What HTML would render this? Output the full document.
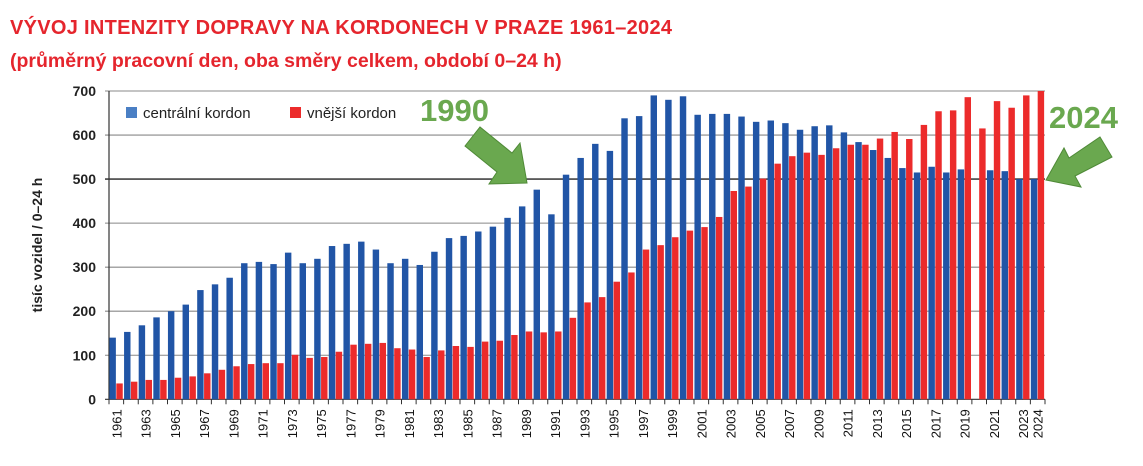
<!DOCTYPE html>
<html><head><meta charset="utf-8">
<style>
body{margin:0;background:#fff;width:1143px;height:466px;overflow:hidden;font-family:"Liberation Sans",sans-serif;}
.t{position:absolute;left:10px;color:#e5252d;font-weight:bold;white-space:nowrap;}
</style></head>
<body>
<div class="t" style="top:17px;font-size:20px;letter-spacing:0.3px;">VÝVOJ INTENZITY DOPRAVY NA KORDONECH V PRAZE 1961–2024</div>
<div class="t" style="top:50px;font-size:19.5px;">(průměrný pracovní den, oba směry celkem, období 0–24 h)</div>
<svg id="c" width="1143" height="466" style="position:absolute;left:0;top:0"></svg>
<script>
const years=[];for(let y=1961;y<=2024;y++)years.push(y);
const central=[140,153,168,186,200,215,248,261,276,309,312,307,333,309,319,348,353,358,340,309,319,305,335,366,371,381,392,412,438,476,420,510,548,580,564,638,643,690,680,688,646,648,648,642,630,633,627,612,620,622,606,584,566,548,525,515,528,515,522,0,520,518,500,500];
const outer=[36,40,44,44,49,52,59,67,75,80,82,82,101,94,96,108,124,126,128,116,113,96,111,121,119,131,133,146,154,152,154,185,220,232,267,288,340,350,368,383,391,414,473,483,501,535,552,560,555,570,578,578,592,607,591,623,654,656,686,615,677,662,690,700];
const yTicks=[0,100,200,300,400,500,600,700];
const NS="http://www.w3.org/2000/svg";
const svg=document.getElementById('c');
const X0=109,X1=1045,Y0=399.3,Y1=91;
const slot=(X1-X0)/years.length;
const yS=v=>Y0-(v/700)*(Y0-Y1);
const xS=i=>X0+i*slot;
function el(t,a){const e=document.createElementNS(NS,t);for(const k in a)e.setAttribute(k,a[k]);svg.appendChild(e);return e;}
yTicks.forEach(v=>{
  const l=el('line',{x1:X0-4,x2:X1,y1:yS(v),y2:yS(v),stroke:v===500?'#222':(v===0?'#333':'#888'),'stroke-width':v===500?1.3:1.1});
  
  
  const t=el('text',{x:X0-13,y:yS(v)+5,'text-anchor':'end','font-size':14,'font-weight':'bold',fill:'#222'});
  t.textContent=v;
  
  
});
const ax=el('line',{x1:X0,x2:X0,y1:Y1,y2:Y0,stroke:'#333','stroke-width':1.2});


years.forEach((yr,i)=>{
  const x=xS(i);
  const tk=el('line',{x1:x,x2:x,y1:Y0,y2:Y0+5,stroke:'#333'});
  
  
  const bw=slot*0.44;
  if(central[i]>0){
    const b=el('rect',{x:x+slot*0.03,y:yS(central[i]),width:bw,height:Y0-yS(central[i]),fill:'#2155a6'});
    
    
  }
  const r=el('rect',{x:x+slot*0.5,y:yS(outer[i]),width:bw,height:Y0-yS(outer[i]),fill:'#ec2b2b'});
  
  
  if(i%2===0||yr===2024){
    const cx=x+slot/2+5;
    const t=el('text',{x:cx,y:Y0+10,'text-anchor':'end','font-size':13,fill:'#111',transform:`rotate(-90 ${cx} ${Y0+10})`});
    t.textContent=yr;
    
    
  }
});
const t2=el('line',{x1:X1,x2:X1,y1:Y0,y2:Y0+5,stroke:'#333'});


const yl=el('text',{x:42,y:245,'text-anchor':'middle','font-size':14,'font-weight':'bold',fill:'#222',transform:'rotate(-90 42 245)'});
yl.textContent='tisíc vozidel / 0–24 h';


const lg=[['#4a7fc4','centrální kordon',126],['#ec2b2b','vnější kordon',290]];
lg.forEach(([c,n,x])=>{
  const r=el('rect',{x:x,y:107,width:11,height:11,fill:c});
  
  
  const t=el('text',{x:x+17,y:118,'font-size':15,fill:'#222'});
  t.textContent=n;
  
  
});
const a1=el('text',{x:420,y:121,'font-size':31,'font-weight':'bold',fill:'#6aa84f'});
a1.textContent='1990';


const p1=el('polygon',{points:'465,146 480,127 512,153 520,143 527,183 489,184 497,172',fill:'#6aa84f',stroke:'#4f8a37'});


const a2=el('text',{x:1049,y:128,'font-size':31,'font-weight':'bold',fill:'#6aa84f'});
a2.textContent='2024';


const p2=el('polygon',{points:'1100,137 1112,157 1075,176 1081,187 1046,180 1064,148 1069,158',fill:'#6aa84f',stroke:'#4f8a37'});


</script>
</body></html>
